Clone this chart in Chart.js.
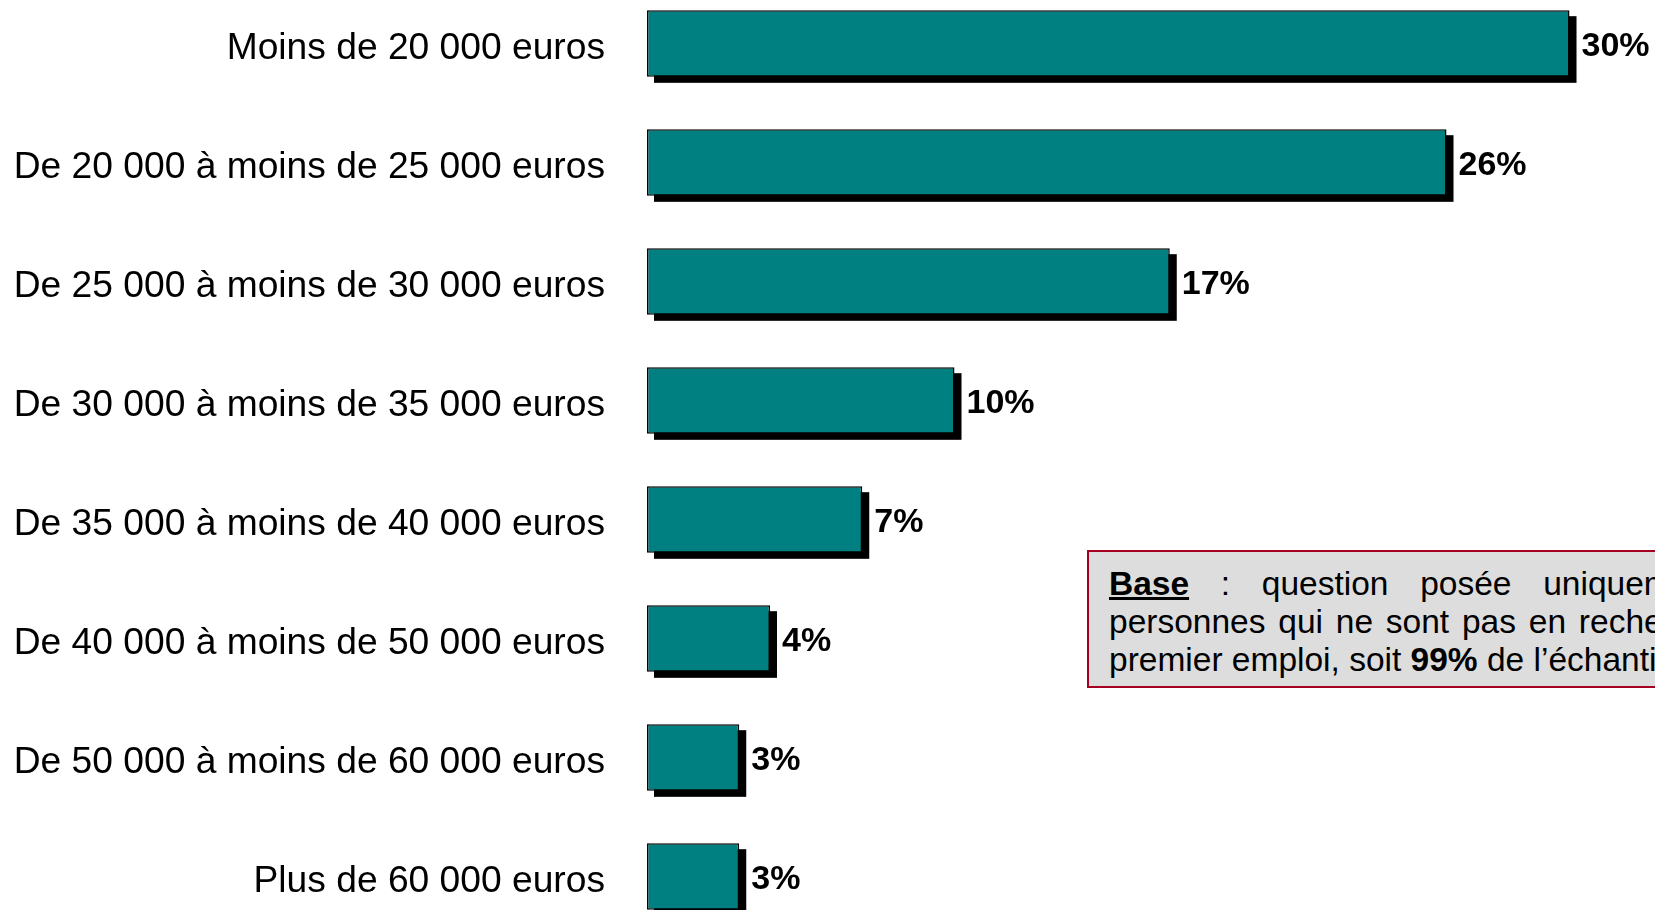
<!DOCTYPE html>
<html>
<head>
<meta charset="utf-8">
<script src="https://cdn.jsdelivr.net/npm/chart.js@4"></script>
<style>
  html, body { margin: 0; padding: 0; background: #fff; overflow: hidden; width: 1655px; height: 910px; }
  #grafico { position: absolute; left: 0; top: -16px; }
  #base {
    position: absolute; left: 1087px; top: 550px; width: 695px;
    padding: 13px 20px 7px 20px;
    background: #dddddd; border: 2px solid #a50021;
    font-family: "Liberation Sans", Arial, sans-serif; font-size: 33.5px; line-height: 38px;
    text-align: justify; color: #000;
  }
  #base b.u { text-decoration: underline; }
</style>
</head>
<body>
<canvas id="grafico" width="1655" height="952"></canvas>
<div id="base"><b class="u">Base</b> : question posée uniquement aux personnes qui ne sont pas en recherche d’un premier emploi, soit <b>99%</b> de l’échantillon</div>
<script>
const categories = [
  "Moins de 20 000 euros",
  "De 20 000 à moins de 25 000 euros",
  "De 25 000 à moins de 30 000 euros",
  "De 30 000 à moins de 35 000 euros",
  "De 35 000 à moins de 40 000 euros",
  "De 40 000 à moins de 50 000 euros",
  "De 50 000 à moins de 60 000 euros",
  "Plus de 60 000 euros",
]
const valeurs = [30, 26, 17, 10, 7, 4, 3, 3]

// ombre noire derriere chaque barre
const ombre = {
  id: "ombre",
  beforeDatasetsDraw(chart){
    const ctx = chart.ctx
    ctx.save()
    ctx.fillStyle = "#000"
    chart.getDatasetMeta(0).data.forEach(bar => {
      const p = bar.getProps(["x", "y", "base", "height"], true)
      ctx.fillRect(p.base + 7, p.y - p.height / 2 + 6, p.x - p.base, p.height)
    })
    ctx.restore()
  }
}

// pourcentages en bout de barre
const etiquettes = {
  id: "etiquettes",
  afterDatasetsDraw(chart){
    const ctx = chart.ctx
    ctx.save()
    ctx.fillStyle = "#000"
    ctx.font = "bold 34px 'Liberation Sans', Arial, sans-serif"
    ctx.textBaseline = "middle"
    chart.getDatasetMeta(0).data.forEach((bar, i) => {
      ctx.fillText(valeurs[i] + "%", bar.x + 12, bar.y + 3)
    })
    ctx.restore()
  }
}

new Chart(document.getElementById("grafico"), {
  type: "bar",
  data: {
    labels: categories,
    datasets: [{
      data: valeurs,
      backgroundColor: "#008080",
      borderColor: "#000",
      borderWidth: 1.5,
      borderSkipped: false,
      barPercentage: 0.56,
      categoryPercentage: 1,
    }],
  },
  options: {
    indexAxis: "y",
    responsive: false,
    animation: false,
    layout: { padding: 0 },
    plugins: { legend: { display: false }, tooltip: { enabled: false } },
    scales: {
      x: { display: false, min: 0, max: 32.78 },
      y: {
        grid: { display: false },
        border: { display: false },
        ticks: {
          color: "#000",
          padding: 34,
          labelOffset: 5,
          font: { family: "'Liberation Sans', Arial, sans-serif", size: 37.2 },
        },
        afterFit(scale){
          scale.width = 647
          scale.paddingTop = 0
          scale.paddingBottom = 0
        },
      },
    },
  },
  plugins: [ombre, etiquettes],
})
</script>
</body>
</html>
